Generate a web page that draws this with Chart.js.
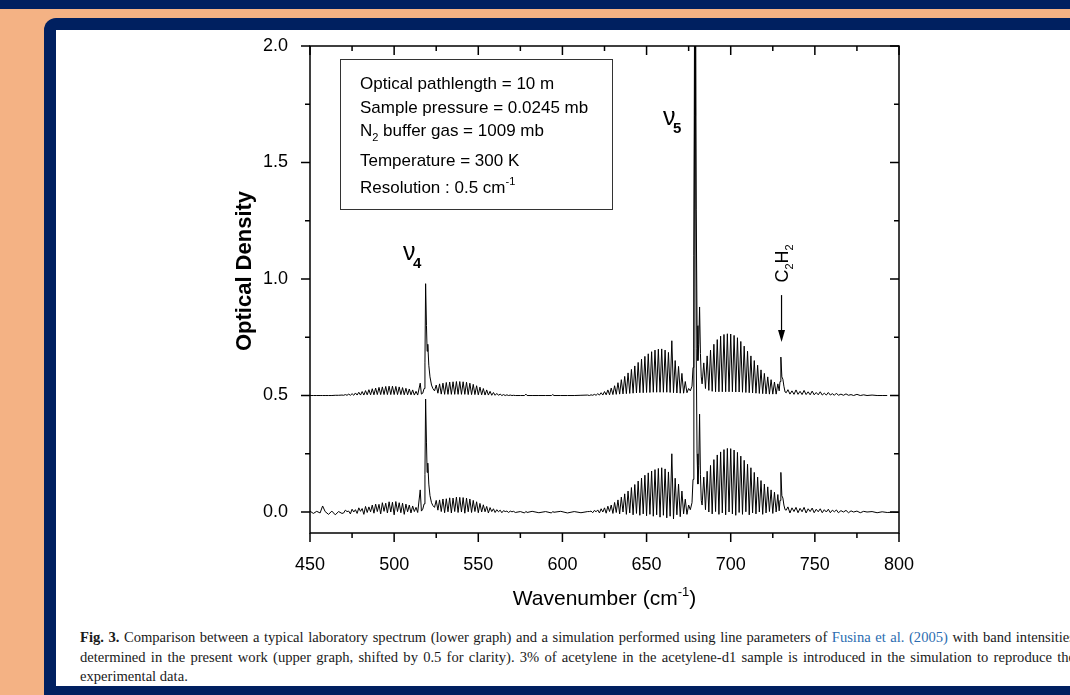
<!DOCTYPE html>
<html lang="en">
<head>
<meta charset="UTF-8">
<title>Fig. 3 - acetylene-d1 spectrum vs simulation</title>
<script src="https://cdn.jsdelivr.net/npm/chart.js"></script>
<style>
  html, body { margin: 0; padding: 0; }
  body {
    width: 1070px; height: 695px; overflow: hidden; position: relative;
    background: #F4B284;
    font-family: "Liberation Sans", Arial, sans-serif;
  }
  .topbar { position: absolute; left: 0; top: 0; width: 1070px; height: 9px; background: #002060; }
  .frame { position: absolute; left: 44px; top: 18px; width: 1060px; height: 677px; background: #002060; border-top-left-radius: 12px; }
  .card { position: absolute; left: 56px; top: 30px; width: 1040px; height: 656px; background: #fff; }
  .plot { position: absolute; left: 56px; top: 30px; width: 1014px; height: 590px; }
  .caption {
    position: absolute; left: 80px; top: 628px; width: 995px;
    font-family: "Liberation Serif", "Times New Roman", serif;
    font-size: 14.6px; color: #1a1a1a;
  }
  .caption div { height: 19.5px; line-height: 19.5px; }
  .caption .j { text-align: justify; text-align-last: justify; }
  .caption .ref { color: #2b6cb0; }
</style>
</head>
<body>

<div class="topbar"></div>
<div class="frame"></div>
<div class="card"></div>

<div class="plot">
  <canvas id="grafico" width="1014" height="590"></canvas>
</div>

<div class="caption">
  <div class="j"><b>Fig. 3.</b> Comparison between a typical laboratory spectrum (lower graph) and a simulation performed using line parameters of <span class="ref">Fusina et al. (2005)</span> with band intensities</div>
  <div class="j">determined in the present work (upper graph, shifted by 0.5 for clarity). 3% of acetylene in the acetylene-d1 sample is introduced in the simulation to reproduce the</div>
  <div>experimental data.</div>
</div>

<script>
// wavenumber (cm-1), shared by both traces
const wavenumber = [
  // baseline 450-469
  450, 452, 454, 456, 457.5, 459, 461, 463, 465, 467, 469,
  // nu4 P branch
  470, 471, 472, 473, 474, 475, 476, 477, 478, 479, 480, 481, 482, 483, 484, 485, 486, 487, 488, 489, 490, 491, 492,
  493, 494, 495, 496, 497, 498, 499, 500, 501, 502, 503, 504, 505, 506, 507, 508, 509, 510, 511, 512, 513, 514,
  // nu4 Q branch
  515.5, 516.2, 517, 517.8, 518.3, 518.7, 519.2, 519.6, 520, 520.6, 521.3, 522.2, 523,
  // nu4 R branch
  524, 525, 526, 527, 528, 529, 530, 531, 532, 533, 534, 535, 536, 537, 538, 539, 540, 541, 542, 543, 544, 545, 546,
  547, 548, 549, 550, 551, 552, 553, 554, 555, 556, 557, 558, 559, 560, 561, 562, 563, 564, 565, 566, 567, 568, 569,
  570, 571, 572,
  // baseline 575-615
  575, 577.5, 578.3, 579, 582, 586, 590, 593.5, 594.2, 595, 599, 603, 607, 611, 615,
  // nu5 P branch
  616, 617, 618, 619, 620, 621, 622, 623, 624, 625, 626, 627, 628, 629, 630, 631, 632, 633, 634, 635, 636, 637, 638,
  639, 640, 641, 642, 643, 644, 645, 646, 647, 648, 649, 650, 651, 652, 653, 654, 655, 656, 657, 658, 659, 660, 661,
  662, 663, 664, 665, 666, 667, 668, 669, 670, 671, 672, 673, 674, 675, 676,
  // nu5 Q branch
  677, 677.6, 678.1, 678.5, 678.8, 679.1, 679.5, 680, 680.5, 681, 681.5, 682, 682.5, 683,
  // nu5 R branch
  684, 685, 686, 687, 688, 689, 690, 691, 692, 693, 694, 695, 696, 697, 698, 699, 700, 701, 702, 703, 704, 705, 706,
  707, 708, 709, 710, 711, 712, 713, 714, 715, 716, 717, 718, 719, 720, 721, 722, 723, 724, 725, 726, 727, 728,
  // C2H2 line
  728.8, 729.3, 729.8, 730.4, 731, 731.6, 732.3,
  // weak lines 733-800
  733, 734, 735.2, 736.4, 737.6, 738.8, 740, 741.2, 742.4, 743.6, 744.8, 746, 747.2, 748.4, 749.6, 750.8, 752,
  753.2, 754.4, 755.6, 756.8, 758, 759.2, 760.4, 761.6, 762.8, 764, 765.5, 767, 768.5, 770, 771.5, 773, 775, 777,
  779, 781, 784, 787, 790, 793, 796, 800
];

// laboratory spectrum (lower graph), optical density
const laboratory = [
  0.004, -0.006, 0.003, -0.004, 0.026, 0.002, -0.010, 0.004, -0.012, 0.002, -0.006,
  -0.004, 0.008, 0.002, 0.004, -0.008, 0.012, 0.000, 0.010, -0.006, 0.018, 0.003, 0.015, -0.010, 0.024, -0.002, 0.022, 0.001, 0.030, -0.005, 0.034, 0.002, 0.033, -0.008,
  0.040, 0.003, 0.038, -0.004, 0.044, 0.000, 0.042, -0.012, 0.045, 0.002, 0.040, -0.003, 0.038, -0.010, 0.034, 0.001, 0.030, -0.004, 0.026, 0.002, 0.020, -0.002,
  0.095, 0.004, 0.012, 0.035, 0.16, 0.485, 0.30, 0.17, 0.21, 0.12, 0.07, 0.04, 0.028,
  0.020, 0.050, 0.008, 0.052, 0.002, 0.056, -0.003, 0.057, 0.001, 0.061, -0.004, 0.060, 0.002, 0.064, -0.002, 0.063, 0.000, 0.062, -0.005, 0.060, 0.001, 0.056, -0.002,
  0.050, 0.002, 0.044, -0.003, 0.037, 0.000, 0.031, 0.001, 0.024, -0.004, 0.019, 0.002, 0.014, -0.002, 0.010, 0.001, 0.008, -0.003, 0.006, 0.002, 0.004, -0.002, 0.004,
  0.001, 0.003, -0.002,
  0.002, -0.004, 0.003, -0.002, 0.003, -0.003, 0.002, -0.004, 0.002, -0.001, 0.003, -0.004, 0.002, -0.003, 0.002,
  0.002, 0.004, -0.003, 0.007, 0.001, 0.009, -0.004, 0.014, 0.000, 0.018, -0.005, 0.025, 0.002, 0.030, -0.006, 0.041, -0.002, 0.052, -0.008, 0.064, 0.000, 0.078, -0.010,
  0.090, -0.004, 0.105, -0.012, 0.118, -0.006, 0.133, -0.014, 0.146, -0.008, 0.158, -0.016, 0.168, -0.010, 0.176, -0.018, 0.182, -0.012, 0.187, -0.022, 0.190, -0.014, 0.185,
  -0.025, 0.172, -0.018, 0.250, -0.030, 0.145, -0.012, 0.120, -0.020, 0.090, -0.008, 0.055, -0.010, 0.030, 0.010,
  0.04, 0.14, 0.7, 1.7, 2.6, 1.7, 0.7, 0.25, 0.12, 0.2, 0.42, 0.16, 0.05, 0.03,
  0.150, 0.010, 0.175, 0.000, 0.200, -0.008, 0.225, 0.002, 0.245, -0.010, 0.258, -0.004, 0.268, -0.012, 0.273, 0.000, 0.272, -0.008, 0.266, -0.014, 0.256, -0.002, 0.240,
  -0.010, 0.222, 0.001, 0.205, -0.012, 0.190, -0.004, 0.170, -0.008, 0.150, 0.000, 0.135, -0.010, 0.120, -0.004, 0.108, 0.002, 0.095, -0.006, 0.085, 0.000, 0.075,
  0.005, 0.05, 0.17, 0.07, 0.06, 0.03, 0.01,
  0.008, 0.022, -0.004, 0.018, 0.002, 0.020, -0.003, 0.016, 0.001, 0.020, -0.004, 0.014, 0.002, 0.017, -0.003, 0.012, 0.001,
  0.014, -0.003, 0.010, 0.000, 0.012, -0.003, 0.008, 0.001, 0.009, -0.003, 0.006, 0.000, 0.007, -0.003, 0.005, 0.000, 0.004, -0.003,
  0.003, 0.000, 0.002, -0.003, 0.001, -0.002, -0.001, -0.002
];

// simulation (upper graph), optical density before the 0.5 shift
const simulation = [
  0, 0, 0, 0, 0, 0, 0, 0, 0.001, 0.001, 0.002,
  0.001, 0.004, 0.001, 0.006, 0.001, 0.008, 0.001, 0.011, 0.002, 0.014, 0.002, 0.017, 0.002, 0.021, 0.003, 0.025, 0.003, 0.029, 0.003, 0.032, 0.004, 0.035, 0.004,
  0.037, 0.004, 0.039, 0.004, 0.040, 0.004, 0.040, 0.004, 0.039, 0.004, 0.037, 0.004, 0.034, 0.003, 0.031, 0.003, 0.028, 0.003, 0.024, 0.002, 0.018, 0.002,
  0.053, 0.006, 0.010, 0.03, 0.14, 0.48, 0.30, 0.19, 0.22, 0.13, 0.08, 0.045, 0.03,
  0.020, 0.045, 0.010, 0.050, 0.006, 0.053, 0.005, 0.056, 0.005, 0.058, 0.005, 0.059, 0.005, 0.060, 0.005, 0.060, 0.005, 0.059, 0.005, 0.057, 0.004, 0.053, 0.004,
  0.048, 0.004, 0.042, 0.003, 0.036, 0.003, 0.030, 0.002, 0.024, 0.002, 0.018, 0.001, 0.013, 0.001, 0.009, 0.001, 0.006, 0, 0.004, 0, 0.003, 0, 0.002,
  0, 0.001, 0,
  0, 0, 0.006, 0, 0, 0, 0, 0, 0.004, 0, 0, 0, 0, 0.001, 0.002,
  0, 0.003, 0.001, 0.005, 0.001, 0.008, 0.002, 0.012, 0.002, 0.017, 0.003, 0.024, 0.003, 0.032, 0.004, 0.042, 0.005, 0.055, 0.006, 0.068, 0.007, 0.082, 0.008,
  0.097, 0.009, 0.112, 0.010, 0.127, 0.011, 0.142, 0.012, 0.156, 0.012, 0.168, 0.013, 0.179, 0.013, 0.188, 0.014, 0.195, 0.014, 0.199, 0.014, 0.200, 0.014, 0.195,
  0.014, 0.185, 0.013, 0.235, 0.012, 0.150, 0.011, 0.125, 0.010, 0.095, 0.010, 0.060, 0.012, 0.030, 0.020,
  0.04, 0.12, 0.6, 1.6, 2.6, 1.8, 0.8, 0.3, 0.15, 0.22, 0.38, 0.18, 0.08, 0.05,
  0.140, 0.030, 0.170, 0.022, 0.195, 0.018, 0.220, 0.016, 0.240, 0.016, 0.255, 0.016, 0.262, 0.016, 0.265, 0.016, 0.264, 0.016, 0.258, 0.015, 0.248, 0.015, 0.232,
  0.014, 0.212, 0.013, 0.190, 0.012, 0.170, 0.011, 0.150, 0.010, 0.130, 0.009, 0.110, 0.008, 0.095, 0.007, 0.080, 0.006, 0.068, 0.006, 0.058, 0.006, 0.050,
  0.02, 0.06, 0.165, 0.08, 0.07, 0.04, 0.015,
  0.012, 0.025, 0.006, 0.020, 0.005, 0.024, 0.005, 0.018, 0.004, 0.022, 0.004, 0.016, 0.003, 0.019, 0.003, 0.013, 0.003,
  0.016, 0.002, 0.010, 0.002, 0.013, 0.002, 0.008, 0.001, 0.010, 0.001, 0.006, 0.001, 0.007, 0.001, 0.004, 0, 0.005, 0,
  0.003, 0, 0.002, 0, 0, 0, null, null
];

const SIM_SHIFT = 0.5;   // upper graph shifted by 0.5 for clarity

const xTicks = [450, 500, 550, 600, 650, 700, 750, 800];
const xMinorTicks = [475, 525, 575, 625, 675, 725, 775];
const yTicks = [0.0, 0.5, 1.0, 1.5, 2.0];
const yMinorTicks = [0.25, 0.75, 1.25, 1.75];

const boxLines = [
  [{ t: 'Optical pathlength = 10 m' }],
  [{ t: 'Sample pressure = 0.0245 mb' }],
  [{ t: 'N' }, { t: '2', sub: true }, { t: ' buffer gas = 1009 mb' }],
  [{ t: 'Temperature = 300 K' }],
  [{ t: 'Resolution : 0.5 cm' }, { t: '-1', sup: true }]
];
const boxLineY = [1.8155, 1.7137, 1.6137, 1.485, 1.3704];

const FAM = '"Liberation Sans", Arial, Helvetica, sans-serif';
Chart.defaults.font.family = FAM;

function drawRich(ctx, parts, x, y, size) {
  let cx = x;
  for (const p of parts) {
    const small = p.sub || p.sup;
    const s = small ? Math.round(size * 0.62) : size;
    ctx.font = (p.bold ? 'bold ' : '') + s + 'px ' + FAM;
    const dy = p.sub ? size * 0.32 : (p.sup ? -size * 0.45 : 0);
    ctx.fillText(p.t, cx, y + dy);
    cx += ctx.measureText(p.t).width;
  }
  return cx;
}

function richWidth(ctx, parts, size) {
  let w = 0;
  for (const p of parts) {
    const small = p.sub || p.sup;
    const s = small ? Math.round(size * 0.62) : size;
    ctx.font = (p.bold ? 'bold ' : '') + s + 'px ' + FAM;
    w += ctx.measureText(p.t).width;
  }
  return w;
}

const desenho = {
  id: 'desenho',
  afterDraw(chart) {
    const { ctx, chartArea: a, scales: { x, y } } = chart;
    ctx.save();

    // plot frame
    ctx.strokeStyle = '#000';
    ctx.lineWidth = 1.5;
    ctx.strokeRect(a.left, a.top, a.right - a.left, a.bottom - a.top);

    // ticks: outward bottom/left, inward top/right
    ctx.beginPath();
    const tx = (v, len) => {
      const p = x.getPixelForValue(v);
      ctx.moveTo(p, a.bottom); ctx.lineTo(p, a.bottom + len);
      ctx.moveTo(p, a.top); ctx.lineTo(p, a.top + len);
    };
    const ty = (v, len) => {
      const p = y.getPixelForValue(v);
      ctx.moveTo(a.left - len, p); ctx.lineTo(a.left, p);
      ctx.moveTo(a.right - len, p); ctx.lineTo(a.right, p);
    };
    xTicks.forEach(v => tx(v, 9));
    xMinorTicks.forEach(v => tx(v, 5));
    yTicks.forEach(v => ty(v, 9));
    yMinorTicks.forEach(v => ty(v, 5));
    ctx.stroke();

    // box with the experimental conditions
    const bx0 = x.getPixelForValue(467.8), bx1 = x.getPixelForValue(629.4);
    const by0 = y.getPixelForValue(1.944), by1 = y.getPixelForValue(1.300);
    ctx.lineWidth = 1;
    ctx.strokeStyle = '#333';
    ctx.strokeRect(Math.round(bx0) + 0.5, Math.round(by0) + 0.5, Math.round(bx1 - bx0), Math.round(by1 - by0));
    ctx.fillStyle = '#000';
    ctx.textAlign = 'left';
    ctx.textBaseline = 'alphabetic';
    const tx0 = x.getPixelForValue(479.7);
    boxLines.forEach((parts, i) => drawRich(ctx, parts, tx0, y.getPixelForValue(boxLineY[i]), 17));

    // band labels
    const nu = (wn, od, sub) => {
      const px = x.getPixelForValue(wn), py = y.getPixelForValue(od);
      ctx.font = '25px ' + FAM;
      ctx.fillText('\u03BD', px, py);
      ctx.font = 'bold 15px ' + FAM;
      ctx.fillText(sub, px + 10, py + 8);
    };
    nu(505.3, 1.082, '4');
    nu(659.7, 1.661, '5');

    // C2H2 label and arrow
    const cxp = x.getPixelForValue(730.2);
    ctx.save();
    ctx.translate(cxp + 6, y.getPixelForValue(0.985));
    ctx.rotate(-Math.PI / 2);
    drawRich(ctx, [{ t: 'C' }, { t: '2', sub: true }, { t: 'H' }, { t: '2', sub: true }], 0, 0, 18);
    ctx.restore();
    const ay0 = y.getPixelForValue(0.931), ay1 = y.getPixelForValue(0.73);
    ctx.strokeStyle = '#000';
    ctx.lineWidth = 1.2;
    ctx.beginPath();
    ctx.moveTo(cxp, ay0); ctx.lineTo(cxp, ay1 - 8);
    ctx.stroke();
    ctx.beginPath();
    ctx.moveTo(cxp - 3.5, ay1 - 12); ctx.lineTo(cxp + 3.5, ay1 - 12); ctx.lineTo(cxp, ay1);
    ctx.closePath();
    ctx.fill();

    // axis titles
    const xt = [{ t: 'Wavenumber (cm' }, { t: '-1', sup: true }, { t: ')' }];
    const wx = richWidth(ctx, xt, 21);
    drawRich(ctx, xt, (a.left + a.right) / 2 - wx / 2, a.bottom + 72, 21);

    ctx.save();
    ctx.translate(a.left - 59, a.top + 225);
    ctx.rotate(-Math.PI / 2);
    ctx.font = 'bold 22px ' + FAM;
    ctx.textAlign = 'center';
    ctx.fillText('Optical Density', 0, 0);
    ctx.restore();

    ctx.restore();
  }
};

const lowerData = wavenumber.map((w, i) => ({ x: w, y: laboratory[i] }));
const upperData = wavenumber.map((w, i) => ({ x: w, y: simulation[i] === null ? null : simulation[i] + SIM_SHIFT }));

new Chart(document.getElementById('grafico'), {
  type: 'line',
  data: {
    datasets: [
      { label: 'Laboratory spectrum', data: lowerData, borderColor: '#000', borderWidth: 1, pointRadius: 0, tension: 0 },
      { label: 'Simulation (shifted by 0.5)', data: upperData, borderColor: '#000', borderWidth: 1, pointRadius: 0, tension: 0, spanGaps: false }
    ]
  },
  options: {
    responsive: false,
    animation: false,
    events: [],
    layout: { padding: { left: 174, top: 16, right: 171, bottom: 0 } },
    plugins: { legend: { display: false }, tooltip: { enabled: false } },
    scales: {
      x: {
        type: 'linear', min: 450, max: 800,
        afterBuildTicks: s => { s.ticks = xTicks.map(v => ({ value: v })); },
        afterFit: s => { s.height = 87; s.paddingLeft = 0; s.paddingRight = 0; },
        grid: { display: false },
        border: { display: false },
        ticks: { color: '#000', font: { size: 18 }, padding: 13, maxRotation: 0, autoSkip: false, callback: v => String(v) }
      },
      y: {
        type: 'linear', min: -0.09, max: 2.0,
        afterBuildTicks: s => { s.ticks = yTicks.map(v => ({ value: v })); },
        afterFit: s => { s.width = 80; s.paddingTop = 0; s.paddingBottom = 0; },
        grid: { display: false },
        border: { display: false },
        ticks: { color: '#000', font: { size: 18 }, padding: 14, callback: v => v.toFixed(1) }
      }
    }
  },
  plugins: [desenho]
});
</script>
</body>
</html>
